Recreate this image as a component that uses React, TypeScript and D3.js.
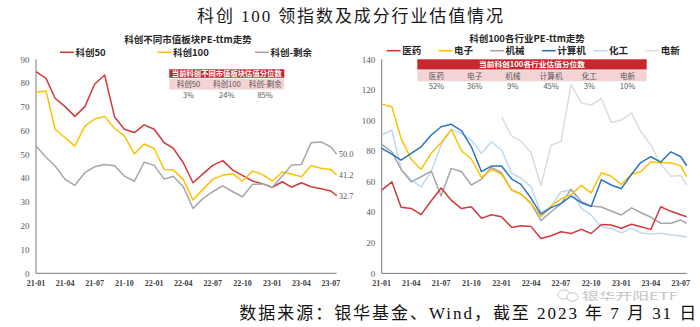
import React from "react";
import * as d3 from "d3";

// ---------- DATA ----------
const dates = [
  "2021-01-01", "2021-02-01", "2021-03-01", "2021-04-01", "2021-05-01", "2021-06-01",
  "2021-07-01", "2021-08-01", "2021-09-01", "2021-10-01", "2021-11-01", "2021-12-01",
  "2022-01-01", "2022-02-01", "2022-03-01", "2022-04-01", "2022-05-01", "2022-06-01",
  "2022-07-01", "2022-08-01", "2022-09-01", "2022-10-01", "2022-11-01", "2022-12-01",
  "2023-01-01", "2023-02-01", "2023-03-01", "2023-04-01", "2023-05-01", "2023-06-01",
  "2023-07-01", "2023-07-19",
];

// Left chart: 科创不同市值板块PE-ttm走势
const leftNames = ["科创50", "科创100", "科创-剩余"];
const kc50 = [84.8, 82.0, 73.6, 70.1, 66.0, 70.1, 79.5, 83.4, 65.7, 60.6, 59.2, 62.4, 60.6, 54.9, 52.6, 46.5, 38.1, 41.8, 45.4, 47.4, 43.4, 41.2, 38.8, 37.7, 36.2, 38.5, 36.2, 38.1, 36.4, 35.6, 34.6, 32.7];
const kc100 = [76.1, 76.7, 60.6, 57.0, 53.5, 61.9, 64.9, 66.0, 60.9, 57.8, 50.2, 54.4, 52.5, 43.7, 43.5, 39.5, 30.8, 35.3, 39.5, 41.3, 41.8, 38.8, 43.0, 41.6, 38.8, 42.6, 41.8, 40.6, 45.2, 44.2, 43.7, 41.2];
const kcRest = [53.5, 48.8, 45.1, 39.5, 37.0, 42.3, 44.8, 45.8, 45.2, 40.9, 38.7, 46.7, 45.4, 39.6, 40.8, 36.4, 27.3, 31.5, 34.3, 36.8, 34.3, 32.2, 37.4, 37.6, 36.2, 40.9, 45.5, 45.8, 54.9, 55.2, 53.2, 50.0];
const leftTableTitle = "当前科创不同市值板块估值分位数";
const leftPct = ["3%", "24%", "85%"];
const leftYTicks = [0, 10, 20, 30, 40, 50, 60, 70, 80, 90];

// Right chart: 科创100各行业PE-ttm走势
const rightNames = ["医药", "电子", "机械", "计算机", "化工", "电新"];
const yiyao = [54.5, 59.9, 43.2, 42.5, 38.4, 47.5, 55.8, 47.8, 42.4, 43.6, 36.0, 38.4, 37.1, 30.0, 31.1, 30.6, 22.8, 24.6, 27.2, 26.1, 28.8, 26.1, 32.0, 31.6, 29.5, 32.1, 30.5, 28.8, 43.6, 40.6, 38.3, 37.0];
const dianzi = [110.7, 109.0, 88.3, 74.6, 68.0, 78.5, 85.4, 94.2, 80.2, 74.8, 62.8, 68.0, 64.8, 54.5, 51.9, 45.8, 37.1, 44.1, 48.7, 51.5, 57.5, 52.7, 65.8, 63.5, 58.1, 64.8, 66.5, 73.0, 72.4, 72.4, 70.3, 63.2];
const jixie = [84.4, 79.5, 68.0, 59.9, 63.2, 66.9, 50.6, 68.7, 66.5, 57.8, 61.7, 69.3, 65.8, 54.5, 51.9, 45.8, 34.5, 40.3, 45.5, 55.0, 47.0, 44.0, 43.4, 40.8, 38.2, 42.9, 39.8, 36.7, 32.8, 32.8, 34.9, 32.7];
const jisuanji = [81.8, 78.0, 74.1, 78.5, 82.8, 90.5, 95.9, 97.5, 93.3, 82.8, 66.5, 70.2, 70.2, 61.7, 58.2, 49.1, 38.8, 43.0, 45.6, 50.6, 46.2, 43.8, 61.3, 57.8, 55.4, 64.8, 72.5, 76.3, 72.8, 79.5, 76.3, 70.4];
const huagong = [90.5, 93.7, 68.0, 61.0, 56.7, 66.5, 83.9, 94.2, 91.6, 87.2, 78.5, 86.1, 80.7, 65.4, 62.2, 56.7, 39.8, 43.6, 53.4, 54.5, 42.5, 38.2, 30.5, 29.5, 26.5, 29.5, 26.5, 25.8, 26.2, 25.1, 24.4, 24.0];
const dianxin = [null, null, null, null, null, null, null, null, null, null, null, null, 102.4, 89.8, 86.5, 79.0, 57.5, 83.9, 86.1, 123.5, 111.5, 110.1, 114.4, 98.7, 100.3, 105.0, 92.8, 83.9, 71.5, 63.5, 64.0, 57.8];
const rightTableTitle = "当前科创100各行业估值分位数";
const rightPct = ["52%", "36%", "9%", "45%", "3%", "10%"];
const rightYTicks = [0, 20, 40, 60, 80, 100, 120, 140];

const mainTitle = "科创 100 领指数及成分行业估值情况";
const leftTitle = "科创不同市值板块PE-ttm走势";
const rightTitle = "科创100各行业PE-ttm走势";
const footer = "数据来源：银华基金、Wind，截至 2023 年 7 月 31 日";
const watermark = "银华开阳ETF";

// ---------- STYLE ----------
const SANS = "'Noto Sans CJK SC', 'Noto Sans', sans-serif";
const SERIF = "'Liberation Serif', 'Times New Roman', 'Noto Sans CJK SC', serif";
const RED = "#d0393e";
const YELLOW = "#ffc000";
const GRAY = "#a6a6a6";
const BLUE = "#2a74c4";
const LBLUE = "#bdd9f2";
const LGRAY = "#dcdcdc";
const HEAD = "#c9262d";
const PINK = "#f4d3d5";
const AXIS = "#7a7a7a";
const TXT = "#595959";

const parse = d3.timeParse("%Y-%m-%d");
const dateObjs = dates.map((d) => parse(d) as Date);
const fmt = d3.timeFormat("%y-%m");

type Series = { name: string; values: (number | null)[]; color: string };

function Panel(props: {
  xRange: [number, number];
  yRange: [number, number];
  yMax: number;
  yTicks: number[];
  series: Series[];
  drawOrder?: number[];
  title: string;
  titleX: number;
  titleY: number;
  legendX: number;
  legendStep: number;
  legendY: number;
  table: { title: string; labels: string[]; values: string[]; x0: number; x1: number; y0: number; hh: number; rh: number; vy: number; tw: number };
  endLabels?: boolean;
}) {
  const { xRange, yRange, yMax, yTicks, series, table } = props;
  const x = d3.scaleTime().domain([dateObjs[0], dateObjs[dateObjs.length - 1]]).range(xRange);
  const y = d3.scaleLinear().domain([0, yMax]).range(yRange);
  const xTicks = d3.timeMonth.range(dateObjs[0], dateObjs[dateObjs.length - 1], 3);
  const line = d3
    .line<number | null>()
    .defined((d) => d != null)
    .x((_, i) => x(dateObjs[i]))
    .y((d) => y(d as number));
  const colW = (table.x1 - table.x0) / table.labels.length;
  const order = props.drawOrder || series.map((_, i) => i);
  return (
    <g>
      {/* title + legend */}
      <text x={props.titleX} y={props.titleY} textAnchor="middle" fontFamily={SANS} fontWeight={700} fontSize={9.5} fill="#262626">
        {props.title}
      </text>
      {series.map((s, i) => {
        const lx = props.legendX + i * props.legendStep;
        return (
          <g key={s.name}>
            <line x1={lx} x2={lx + 14} y1={props.legendY} y2={props.legendY} stroke={s.color} strokeWidth={1.6} />
            <text x={lx + 15.5} y={props.legendY + 3.3} fontFamily={SANS} fontWeight={700} fontSize={9.5} fill="#262626">
              {s.name}
            </text>
          </g>
        );
      })}
      {/* table */}
      <rect x={table.x0} y={table.y0} width={table.x1 - table.x0} height={table.hh} fill={HEAD} />
      <text
        x={(table.x0 + table.x1) / 2 - table.tw / 2}
        y={table.y0 + table.hh / 2 + 2.6}
        textLength={table.tw}
        lengthAdjust="spacingAndGlyphs"
        fontFamily={SANS}
        fontWeight={700}
        fontSize={7.4}
        fill="#fff"
      >
        {table.title}
      </text>
      <rect x={table.x0} y={table.y0 + table.hh + 0.8} width={table.x1 - table.x0} height={table.rh} fill={PINK} />
      {table.labels.map((l, i) => (
        <g key={l}>
          <text x={table.x0 + colW * (i + 0.5)} y={table.y0 + table.hh + 0.8 + table.rh / 2 + 2.7} textAnchor="middle" fontFamily={SANS} fontSize={7.6} fill={TXT}>
            {l}
          </text>
          <text x={table.x0 + colW * (i + 0.5)} y={table.vy + 2.7} textAnchor="middle" fontFamily={SANS} fontSize={7.6} fill={TXT}>
            {table.values[i]}
          </text>
        </g>
      ))}
      {/* axes */}
      <line x1={xRange[0]} x2={xRange[0]} y1={yRange[1]} y2={yRange[0]} stroke={AXIS} strokeWidth={1} />
      <line x1={xRange[0]} x2={xRange[1]} y1={yRange[0]} y2={yRange[0]} stroke={AXIS} strokeWidth={1} />
      {yTicks.map((t) => (
        <text key={t} x={xRange[0] - 6.5} y={y(t) + 3.2} textAnchor="end" fontFamily={SERIF} fontSize={9} fill={TXT}>
          {t}
        </text>
      ))}
      {xTicks.map((t) => (
        <text key={+t} x={x(t)} y={yRange[0] + 12.5} textAnchor="middle" fontFamily={SERIF} fontWeight={700} fontSize={8} fill="#404040">
          {fmt(t)}
        </text>
      ))}
      {/* lines */}
      {order.map((k) => {
        const s = series[k];
        return <path key={s.name} d={line(s.values) || ""} fill="none" stroke={s.color} strokeWidth={1.5} strokeLinejoin="round" />;
      })}
      {props.endLabels &&
        series.map((s) => {
          const v = s.values[s.values.length - 1] as number;
          return (
            <text key={s.name + "end"} x={xRange[1] + 2} y={y(v) + 3} fontFamily={SERIF} fontSize={8.5} fill={TXT}>
              {v.toFixed(1)}
            </text>
          );
        })}
    </g>
  );
}

export default function App() {
  const leftSeries: Series[] = [
    { name: leftNames[0], values: kc50, color: RED },
    { name: leftNames[1], values: kc100, color: YELLOW },
    { name: leftNames[2], values: kcRest, color: GRAY },
  ];
  const rightSeries: Series[] = [
    { name: rightNames[0], values: yiyao, color: RED },
    { name: rightNames[1], values: dianzi, color: YELLOW },
    { name: rightNames[2], values: jixie, color: GRAY },
    { name: rightNames[3], values: jisuanji, color: BLUE },
    { name: rightNames[4], values: huagong, color: LBLUE },
    { name: rightNames[5], values: dianxin, color: LGRAY },
  ];
  return (
    <svg width={700} height={327} style={{ position: "absolute", left: 0, top: 0, background: "#fff" }}>
      <rect x={0} y={0} width={700} height={327} fill="#fff" />
      <text x={197} y={22} textLength={306} lengthAdjust="spacing" fontFamily={SERIF} fontSize={17} fill="#1a1a1a">
        {mainTitle}
      </text>
      <Panel
        xRange={[36, 336.7]}
        yRange={[273.3, 59.3]}
        yMax={90}
        yTicks={leftYTicks}
        series={leftSeries}
        title={leftTitle}
        titleX={188}
        titleY={42.5}
        legendX={60}
        legendStep={97.5}
        legendY={52.3}
        table={{ title: leftTableTitle, labels: leftNames, values: leftPct, x0: 169.3, x1: 284.3, y0: 69.3, hh: 8.5, rh: 11, vy: 95, tw: 110 }}
        endLabels
      />
      <Panel
        xRange={[381.7, 686.7]}
        yRange={[273.4, 59.3]}
        yMax={140}
        yTicks={rightYTicks}
        series={rightSeries}
        drawOrder={[5, 4, 2, 0, 1, 3]}
        title={rightTitle}
        titleX={527}
        titleY={41.5}
        legendX={386.7}
        legendStep={51.7}
        legendY={50.7}
        table={{ title: rightTableTitle, labels: rightNames, values: rightPct, x0: 417.3, x1: 646.7, y0: 59.3, hh: 10.2, rh: 11, vy: 86.3, tw: 106 }}
      />
      {/* watermark */}
      <g>
        <ellipse cx={564} cy={294.5} rx={6} ry={4.6} fill="#fff" stroke="#c4c4c4" strokeWidth={1} />
        <ellipse cx={572.5} cy={297} rx={5.5} ry={4.2} fill="#fff" stroke="#c4c4c4" strokeWidth={1} />
        <text x={582} y={299.5} textLength={96} lengthAdjust="spacingAndGlyphs" fontFamily={SANS} fontSize={10} fill="#c4c4c4">
          {watermark}
        </text>
      </g>
      <text x={239.3} y={318.5} textLength={457} lengthAdjust="spacing" fontFamily={SERIF} fontSize={17} fill="#111">
        {footer}
      </text>
    </svg>
  );
}
